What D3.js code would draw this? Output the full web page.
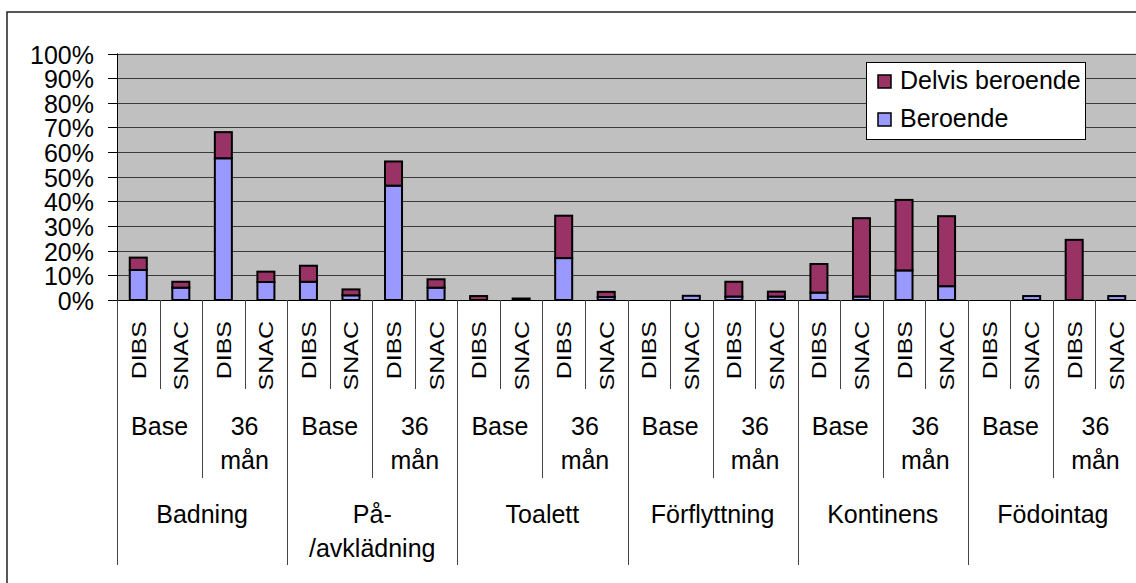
<!DOCTYPE html>
<html>
<head>
<meta charset="utf-8">
<script src="https://cdn.jsdelivr.net/npm/d3@7/dist/d3.min.js"></script>
<style>
  html, body { margin: 0; padding: 0; background: #fff; }
  svg { display: block; font-family: "Liberation Sans", Arial, sans-serif; }
</style>
</head>
<body>
<svg id="chart" width="1136" height="583"></svg>
<script>
// ADL dependency by activity, time point and data source
const activities = ["Badning", "På-/avklädning", "Toalett", "Förflyttning", "Kontinens", "Födointag"];
const timepoints = ["Base", "36 mån"];
const sources = ["DIBS", "SNAC"];

// Percent per bar, ordered activity > time point > source
const beroende = [12.2, 5.0, 57.5, 7.3, 7.4, 1.9, 46.4, 5.0, 0, 0, 17.0, 1.2, 0, 1.7, 1.4, 1.4, 3.0, 1.4, 12.0, 5.6, 0, 1.6, 0, 1.6];
const delvisBeroende = [5.0, 2.4, 10.6, 4.2, 6.5, 2.4, 9.8, 3.4, 1.6, 0.6, 17.2, 2.1, 0, 0, 6.0, 2.0, 11.6, 31.8, 28.6, 28.4, 0, 0, 24.4, 0];

const seriesNames = ["Beroende", "Delvis beroende"];
const seriesColors = ["#9999FF", "#993366"];
const yTicks = [0, 10, 20, 30, 40, 50, 60, 70, 80, 90, 100];

const FONT = 25;
const svg = d3.select("#chart");

const plot = { left: 117, right: 1138, top: 53.5, bottom: 300 };

// Categories: one per bar
const cats = [];
activities.forEach(a => timepoints.forEach(t => sources.forEach(s => {
  cats.push({ a, t, s, i: cats.length });
})));

const x = d3.scaleBand()
  .domain(cats.map(c => c.i))
  .range([plot.left, plot.right])
  .paddingInner(0.6)
  .paddingOuter(0.3);
const step = x.step();

const y = d3.scaleLinear().domain([0, 100]).range([plot.bottom, plot.top]);

// Chart area frame
svg.append("rect")
  .attr("x", 7).attr("y", 12)
  .attr("width", 1200).attr("height", 700)
  .attr("fill", "#fff").attr("stroke", "#222").attr("stroke-width", 1.5);

// Plot background
svg.append("rect")
  .attr("x", plot.left).attr("y", plot.top)
  .attr("width", plot.right - plot.left).attr("height", plot.bottom - plot.top)
  .attr("fill", "#C0C0C0");

// Gridlines
svg.append("g").selectAll("line").data(yTicks.filter(v => v > 0)).join("line")
  .attr("x1", plot.left).attr("x2", plot.right)
  .attr("y1", d => Math.round(y(d)) + 0.5).attr("y2", d => Math.round(y(d)) + 0.5)
  .attr("stroke", "#3a3a3a").attr("stroke-width", 1);

// Stacked bars
const rows = cats.map((c, i) => ({ i, Beroende: beroende[i], "Delvis beroende": delvisBeroende[i] }));
const stacked = d3.stack().keys(seriesNames)(rows);

svg.append("g").selectAll("g").data(stacked).join("g")
  .attr("fill", (d, k) => seriesColors[k])
  .selectAll("rect").data(d => d.filter(p => p[1] - p[0] > 0)).join("rect")
  .attr("x", d => x(d.data.i))
  .attr("width", x.bandwidth())
  .attr("y", d => y(d[1]))
  .attr("height", d => y(d[0]) - y(d[1]))
  .attr("stroke", "#000").attr("stroke-width", 2);

// Value axis
const yAxis = svg.append("g");
yAxis.append("line")
  .attr("x1", plot.left + 0.5).attr("x2", plot.left + 0.5)
  .attr("y1", plot.top).attr("y2", 565)
  .attr("stroke", "#000");
yAxis.selectAll("line.tick").data(yTicks).join("line").attr("class", "tick")
  .attr("x1", 108).attr("x2", plot.left)
  .attr("y1", d => Math.round(y(d)) + 0.5).attr("y2", d => Math.round(y(d)) + 0.5)
  .attr("stroke", "#000");
yAxis.selectAll("text").data(yTicks).join("text")
  .attr("x", 94).attr("y", d => y(d) + 10)
  .attr("text-anchor", "end")
  .attr("font-size", FONT).attr("fill", "#000")
  .text(d => d + "%");

// Category axis baseline
svg.append("line")
  .attr("x1", 108).attr("x2", plot.right)
  .attr("y1", plot.bottom + 0.5).attr("y2", plot.bottom + 0.5)
  .attr("stroke", "#000");

// Multi-level category separators
const levels = [
  { every: 1, bottom: 389 },
  { every: 2, bottom: 478 },
  { every: 4, bottom: 565 }
];
const sepG = svg.append("g").attr("stroke", "#444").attr("stroke-width", 1);
levels.forEach(l => {
  const idx = d3.range(0, cats.length + 1, l.every);
  sepG.selectAll(null).data(idx).join("line")
    .attr("x1", i => Math.round(plot.left + i * step) + 0.5)
    .attr("x2", i => Math.round(plot.left + i * step) + 0.5)
    .attr("y1", plot.bottom).attr("y2", l.bottom);
});

// Level 1: rotated source labels
svg.append("g").selectAll("text").data(cats).join("text")
  .attr("transform", c => `translate(${x(c.i) + x.bandwidth() / 2 + 7.5},321) rotate(-90) scale(1,0.82)`)
  .attr("text-anchor", "end")
  .attr("font-size", FONT).attr("fill", "#000")
  .text(c => c.s);

// Wrap a label at spaces or after hyphens
const wrap = s => s.split(/(?<=-)|\s+/);

// Level 2: time point labels
const timeCells = [];
activities.forEach((a, ai) => timepoints.forEach((t, ti) => {
  timeCells.push({ label: t, start: (ai * 2 + ti) * 2 });
}));
const tG = svg.append("g").attr("font-size", FONT).attr("fill", "#000").attr("text-anchor", "middle");
tG.selectAll("text").data(timeCells).join("text")
  .each(function (d) {
    const t = d3.select(this);
    const cx = plot.left + (d.start + 1) * step;
    wrap(d.label).forEach((line, k) => {
      t.append("tspan").attr("x", cx).attr("y", 435 + k * 34).text(line);
    });
  });

// Level 3: activity labels
const aG = svg.append("g").attr("font-size", FONT).attr("fill", "#000").attr("text-anchor", "middle");
aG.selectAll("text").data(activities).join("text")
  .each(function (d, i) {
    const t = d3.select(this);
    const cx = plot.left + (i * 4 + 2) * step;
    wrap(d).forEach((line, k) => {
      t.append("tspan").attr("x", cx).attr("y", 523 + k * 34).text(line);
    });
  });

// Legend
const legend = svg.append("g");
legend.append("rect")
  .attr("x", 866.5).attr("y", 62.5).attr("width", 219).attr("height", 77)
  .attr("fill", "#fff").attr("stroke", "#000");
const legendItems = [
  { name: "Delvis beroende", color: seriesColors[1] },
  { name: "Beroende", color: seriesColors[0] }
];
legendItems.forEach((it, k) => {
  const by = 89 + k * 38;
  legend.append("rect")
    .attr("x", 878).attr("y", by - 14).attr("width", 13).attr("height", 13)
    .attr("fill", it.color).attr("stroke", "#000").attr("stroke-width", 1.5);
  legend.append("text")
    .attr("x", 900).attr("y", by)
    .attr("font-size", FONT).attr("fill", "#000")
    .text(it.name);
});
</script>
</body>
</html>
